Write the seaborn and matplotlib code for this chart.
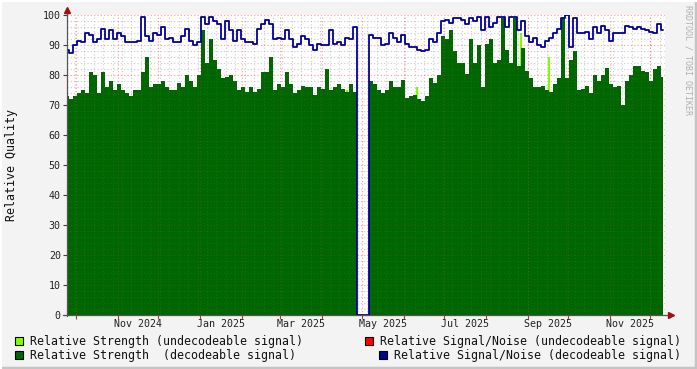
import numpy as np
import pandas as pd
import matplotlib
matplotlib.use("Agg")
import matplotlib.pyplot as plt
import seaborn as sns
from matplotlib.patches import Rectangle
from matplotlib.lines import Line2D

# ---------------- data ----------------
start_date = "2024-09-24 04:00"
end_date = "2025-12-10 07:00"

snr_decodeable = [
    88.5, 87.5, 90, 91.5, 91, 94, 93.5, 91, 92, 95.5, 92, 95, 92, 94, 93, 91, 91, 91, 91.5, 99.5, 93, 91.5, 94, 93.5, 96,
    92, 92.5, 91, 91, 93, 95.5, 91.5, 90, 91, 99.5, 97, 99.5, 98, 97, 92, 98, 95, 91.5, 95, 92, 91, 91, 90.5, 95.5, 97,
    98.5, 97, 92, 92.5, 92, 95, 92, 89.5, 90.5, 93, 92, 90, 88.5, 90.5, 90, 90, 95, 90.5, 91, 90, 92.5, 92, 96,
    0, 0, 0,
    93.5, 92.5, 92.5, 90, 90.5, 94, 92.5, 91, 93.5, 90.5, 89.5, 89.5, 88.5, 88, 88.5, 92, 91, 94, 98, 98.5, 97.5, 99, 99, 98.5,
    97, 99, 98, 99.5, 95, 99.5, 96, 97.5, 99.5, 99.5, 96, 99.5, 99.5, 95, 98, 93, 91, 92.5, 90, 89.5, 91.5, 92.5, 94, 95.5, 99,
    100, 89.5, 99, 94, 94, 94.5, 92, 96, 94, 96.5, 95, 91.5, 94, 94, 94, 96.5, 96, 95.5, 96, 95.5, 95, 94.5, 94, 97, 95,
]

strength_decodeable = [
    73, 72, 73, 74, 75, 74, 81, 80, 74, 81, 76, 78, 75, 77, 75, 74, 73, 75, 75, 81, 86, 76, 77, 77, 78,
    76, 75, 75, 77.5, 76, 80, 78, 76, 80, 95, 84, 92, 85, 82, 79, 79.5, 80, 78, 75, 76, 74.5, 76, 74.5, 75.5, 81,
    81, 86, 75, 77, 76, 81, 77, 74, 75, 76.5, 76, 76, 73.5, 76, 75.5, 82, 75, 76, 77, 75.5, 74.5, 77, 74.5,
    0, 0, 0,
    78, 77, 75, 74, 75, 78, 76, 76, 78.5, 72.5, 73, 73.5, 72, 71.5, 73, 79, 77.5, 80, 93, 92, 95, 88, 84, 84,
    80.5, 92, 84, 90, 76, 90.5, 92, 84, 85, 99, 88.5, 84, 99, 83, 89, 81.5, 79, 76, 76, 76.5, 75, 74.5, 77, 79, 99,
    79, 85, 88, 75, 75.5, 76.5, 74, 80, 78, 80, 82.5, 77, 76, 76.5, 70, 78, 80, 83, 83, 81.5, 81, 78, 82, 83, 79.5,
]

undecodeable_dates = ["2025-04-20", "2025-06-11", "2025-06-21", "2025-08-27", "2025-09-17"]
strength_undecodeable = [75, 76, 78, 94, 86]

legend_labels = [
    "Relative Strength (undecodeable signal)",
    "Relative Strength  (decodeable signal)",
    "Relative Signal/Noise (undecodeable signal)",
    "Relative Signal/Noise (decodeable signal)",
]
y_ticks = [0, 10, 20, 30, 40, 50, 60, 70, 80, 90, 100]

# ---------------- style ----------------
DARK_GREEN = "#006600"
LIGHT_GREEN = "#80FF00"
BLUE = "#000099"
RED = "#FF0000"
BG = "#F3F3F3"

sns.set_style("white")
plt.rcParams["font.family"] = ["DejaVu Sans Mono", "DejaVu Sans"]

W, H = 697, 369
fig = plt.figure(figsize=(W / 100, H / 100), dpi=100, facecolor=BG)


def fx(x):
    return x / W


def fy(y):
    return 1 - y / H


ax = fig.add_axes([fx(67), fy(315), (665 - 67) / W, 300 / H])
ax.set_facecolor("white")

dates = pd.date_range(start_date, end_date, periods=len(snr_decodeable))
df = pd.DataFrame({"date": dates, "strength": strength_decodeable, "snr": snr_decodeable})

# undecodeable strength spikes (behind decodeable area)
ax.vlines(pd.to_datetime(undecodeable_dates), 0, strength_undecodeable,
          color=LIGHT_GREEN, lw=1.6, zorder=1.5)
# decodeable strength area
ax.fill_between(df["date"], 0, df["strength"], step="mid", color=DARK_GREEN, lw=0, zorder=2)

# grid (behind area, faint copy on top)
xmin = pd.Timestamp("2024-09-24 04:00")
xmax = pd.Timestamp("2025-12-11 19:00")
weeks = pd.date_range("2024-09-23", "2025-12-15", freq="W-MON")
months = pd.date_range("2024-10-01", "2025-12-01", freq="MS")
for z, a_min, a_maj in [(1, 0.55, 0.45), (3, 0.12, 0.18)]:
    for wk in weeks:
        ax.axvline(wk, color="#B0B0B0", alpha=a_min, lw=0.8, ls=(0, (1, 2)), zorder=z)
    for y in range(2, 101, 2):
        if y % 10:
            ax.axhline(y, color="#B0B0B0", alpha=a_min, lw=0.8, ls=(0, (1, 2)), zorder=z)
    for m in months:
        ax.axvline(m, color="#FF5050", alpha=a_maj, lw=0.8, ls=(0, (1, 2)), zorder=z + 0.1)
    for y in range(10, 101, 10):
        ax.axhline(y, color="#FF5050", alpha=a_maj, lw=0.8, ls=(0, (1, 2)), zorder=z + 0.1)

# signal/noise line
sns.lineplot(data=df, x="date", y="snr", ax=ax, color=BLUE, lw=1.3,
             drawstyle="steps-mid", zorder=4)
ax.set_xlabel("")
ax.set_ylabel("")

ax.set_xlim(xmin, xmax)
ax.set_ylim(0, 100)

# y ticks
ax.set_yticks(y_ticks)
ax.set_yticklabels([str(v) for v in y_ticks])
ax.tick_params(axis="y", which="major", length=3, width=0.8, color="#404040",
               labelsize=7.2, pad=1.5, labelcolor="#222222", left=True)

# x ticks: month starts (ticks), labels centered in month, every 2 months
ax.set_xticks(months)
ax.set_xticklabels([""] * len(months))
label_months = pd.date_range("2024-11-01", "2025-11-01", freq="2MS")
mids = [m + (m + pd.offsets.MonthBegin(1) - m) / 2 for m in label_months]
ax.set_xticks(mids, minor=True)
ax.set_xticklabels([m.strftime("%b %Y") for m in label_months], minor=True)
ax.tick_params(axis="x", which="major", length=3, width=0.8, color="#A04040", bottom=True)
ax.tick_params(axis="x", which="minor", length=0, labelsize=7.2, pad=3.2, labelcolor="#222222")

for s in ["top", "right", "left", "bottom"]:
    ax.spines[s].set_visible(False)

# axis lines with arrows
fig.add_artist(Line2D([fx(67), fx(67)], [fy(316), fy(10)], color="#555555", lw=0.9,
                      transform=fig.transFigure, zorder=5))
fig.add_artist(Line2D([fx(63), fx(670)], [fy(315), fy(315)], color="#555555", lw=0.9,
                      transform=fig.transFigure, zorder=5))
fig.add_artist(Line2D([fx(67)], [fy(10)], marker="^", ms=4.5, color="#A01010",
                      transform=fig.transFigure, zorder=6))
fig.add_artist(Line2D([fx(670.5)], [fy(315)], marker=">", ms=4.5, color="#A01010",
                      transform=fig.transFigure, zorder=6))

# y label
fig.text(fx(12), fy(165), "Relative Quality", rotation=90, ha="center", va="center",
         fontsize=8.4, color="#111111")

# watermark
fig.text(fx(688), fy(60), "RRDTOOL / TOBI OETIKER", rotation=270, ha="center", va="center",
         fontsize=6, color="#B0B0B0")

# legend
legend_items = [
    (15, 337, LIGHT_GREEN, 30, legend_labels[0]),
    (15, 351, DARK_GREEN, 30, legend_labels[1]),
    (365, 337, RED, 380, legend_labels[2]),
    (379, 351, BLUE, 394, legend_labels[3]),
]
for bx, by, col, tx, lab in legend_items:
    fig.add_artist(Rectangle((fx(bx), fy(by + 8)), 8 / W, 8 / H, transform=fig.transFigure,
                             facecolor=col, edgecolor="black", lw=0.8))
    fig.text(fx(tx), fy(by + 4.5), lab, ha="left", va="center", fontsize=8.4, color="#111111")

# frame shading
fig.add_artist(Line2D([fx(0), fx(697)], [fy(367.5), fy(367.5)], color="#C4C4C4", lw=2.5,
                      transform=fig.transFigure))
fig.add_artist(Line2D([fx(695.5), fx(695.5)], [fy(0), fy(369)], color="#C4C4C4", lw=2.5,
                      transform=fig.transFigure))
fig.add_artist(Line2D([fx(0), fx(697)], [fy(0.8), fy(0.8)], color="#FFFFFF", lw=1.5,
                      transform=fig.transFigure))
fig.add_artist(Line2D([fx(0.8), fx(0.8)], [fy(0), fy(369)], color="#FFFFFF", lw=1.5,
                      transform=fig.transFigure))

fig.savefig("out.png", dpi=100, facecolor=BG)
